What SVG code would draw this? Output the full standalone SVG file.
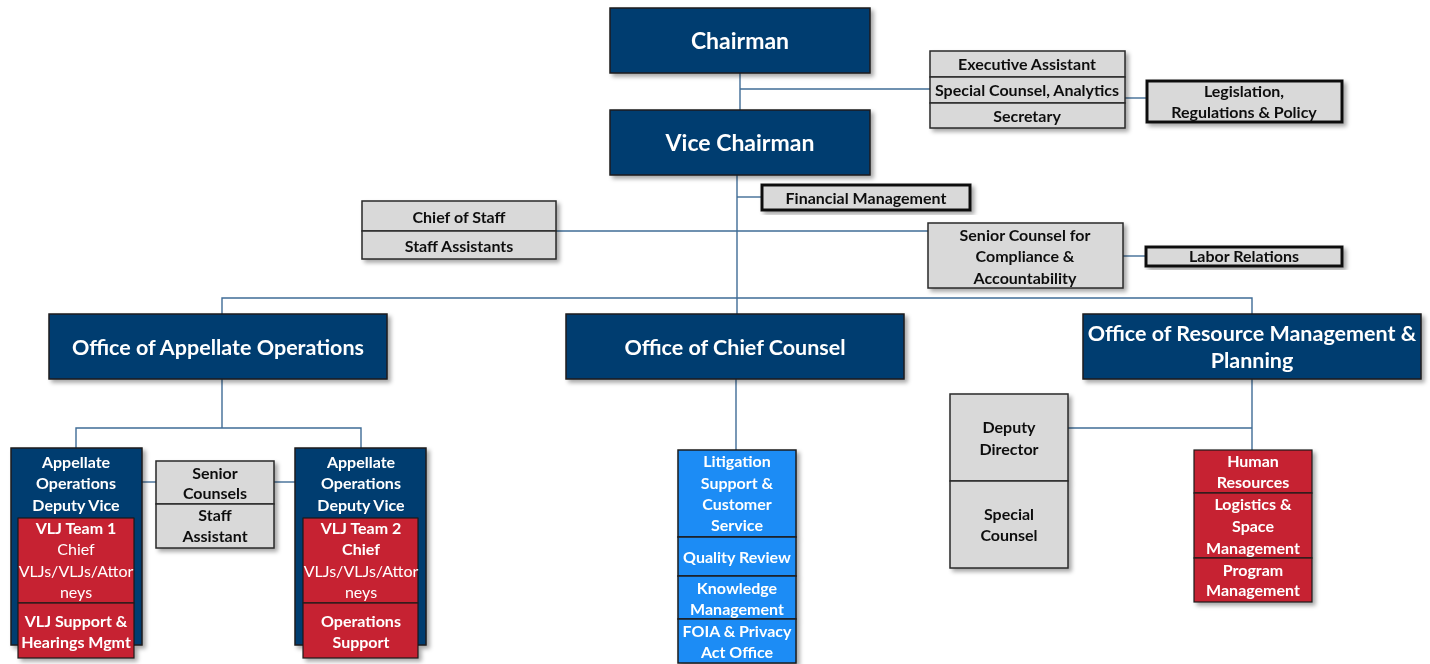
<svg xmlns="http://www.w3.org/2000/svg" width="1430" height="664" viewBox="0 0 1430 664">
  <defs>
    <filter id="sh" x="-10%" y="-10%" width="130%" height="130%">
      <feDropShadow dx="3" dy="3" stdDeviation="2" flood-color="#000" flood-opacity="0.35"/>
    </filter>
    <style>
      text { font-family: Lato, "Liberation Sans", sans-serif; font-weight: bold; text-anchor: middle; }
      .navy { fill: #023d6f; stroke: #1c1c1c; stroke-width: 1.5; }
      .gray { fill: #d9d9d9; stroke: #2a2a2a; stroke-width: 1.5; }
      .grayk { fill: #d9d9d9; stroke: #111; stroke-width: 3; }
      .red { fill: #c62432; stroke: #1c1c1c; stroke-width: 1.2; }
      .blue { fill: #1a8cf5; stroke: #1c1c1c; stroke-width: 1.5; }
      .w { fill: #ffffff; }
      .k { fill: #111111; }
      .big { font-size: 23px; }
      .mid { font-size: 21.5px; }
      .sm { font-size: 16px; }
      .reg { font-weight: normal; }
      .conn line, .conn polyline { stroke: #3f6c96; stroke-width: 1.4; fill: none; }
    </style>
  </defs>
  <rect width="1430" height="664" fill="#ffffff"/>

  <!-- connectors -->
  <g class="conn">
    <line x1="740" y1="73" x2="740" y2="110"/>
    <line x1="740" y1="89" x2="930" y2="89"/>
    <line x1="1125" y1="98" x2="1147" y2="98"/>
    <line x1="737" y1="175" x2="737" y2="314"/>
    <line x1="737" y1="197" x2="762" y2="197"/>
    <line x1="556" y1="231" x2="928" y2="231"/>
    <line x1="1123" y1="256" x2="1146" y2="256"/>
    <polyline points="222,314 222,298 1252,298 1252,314"/>
    <line x1="222" y1="379" x2="222" y2="428"/>
    <polyline points="76,448 76,428 361,428 361,448"/>
    <line x1="142" y1="482" x2="156" y2="482"/>
    <line x1="274" y1="482" x2="295" y2="482"/>
    <line x1="736" y1="379" x2="736" y2="450"/>
    <line x1="1252" y1="379" x2="1252" y2="450"/>
    <line x1="1068" y1="428" x2="1252" y2="428"/>
  </g>

  <g id="chairman" filter="url(#sh)">
    <rect class="navy" x="610" y="8" width="260" height="65"/>
    <text class="w big" x="740" y="49">Chairman</text>
  </g>

  <g id="vice-chairman" filter="url(#sh)">
    <rect class="navy" x="610" y="110" width="260" height="65"/>
    <text class="w big" x="740" y="151">Vice Chairman</text>
  </g>

  <g id="exec-staff" filter="url(#sh)">
    <rect class="gray" x="930" y="51" width="195" height="26"/>
    <rect class="gray" x="930" y="77" width="195" height="26"/>
    <rect class="gray" x="930" y="103" width="195" height="25"/>
    <text class="k sm" x="1027" y="70">Executive Assistant</text>
    <text class="k sm" x="1027" y="96">Special Counsel, Analytics</text>
    <text class="k sm" x="1027" y="122">Secretary</text>
  </g>

  <g id="legislation" filter="url(#sh)">
    <rect class="grayk" x="1147" y="81" width="195" height="41"/>
    <text class="k sm" x="1244" y="97">Legislation,</text>
    <text class="k sm" x="1244" y="118">Regulations &amp; Policy</text>
  </g>

  <g id="financial" filter="url(#sh)">
    <rect class="grayk" x="762" y="185" width="208" height="25"/>
    <text class="k sm" x="866" y="204">Financial Management</text>
  </g>

  <g id="chief-of-staff" filter="url(#sh)">
    <rect class="gray" x="362" y="201" width="194" height="30"/>
    <rect class="gray" x="362" y="231" width="194" height="28"/>
    <text class="k sm" x="459" y="223">Chief of Staff</text>
    <text class="k sm" x="459" y="252">Staff Assistants</text>
  </g>

  <g id="senior-counsel" filter="url(#sh)">
    <rect class="gray" x="928" y="223" width="195" height="65"/>
    <text class="k sm" x="1025" y="241">Senior Counsel for</text>
    <text class="k sm" x="1025" y="262">Compliance &amp;</text>
    <text class="k sm" x="1025" y="284">Accountability</text>
  </g>

  <g id="labor-relations" filter="url(#sh)">
    <rect class="grayk" x="1146" y="247" width="196" height="19"/>
    <text class="k sm" x="1244" y="262">Labor Relations</text>
  </g>

  <g id="appellate-ops" filter="url(#sh)">
    <rect class="navy" x="49" y="314" width="338" height="65"/>
    <text class="w mid" x="218" y="355">Office of Appellate Operations</text>
  </g>

  <g id="chief-counsel" filter="url(#sh)">
    <rect class="navy" x="566" y="314" width="338" height="65"/>
    <text class="w mid" x="735" y="355">Office of Chief Counsel</text>
  </g>

  <g id="resource-mgmt" filter="url(#sh)">
    <rect class="navy" x="1083" y="314" width="338" height="65"/>
    <text class="w mid" x="1252" y="341">Office of Resource Management &amp;</text>
    <text class="w mid" x="1252" y="368">Planning</text>
  </g>

  <g id="deputy-vice-1" filter="url(#sh)">
    <rect class="navy" x="11" y="448" width="131" height="197"/>
    <text class="w sm" x="76" y="468">Appellate</text>
    <text class="w sm" x="76" y="489">Operations</text>
    <text class="w sm" x="76" y="511">Deputy Vice</text>
    <rect class="red" x="18" y="518" width="116" height="85"/>
    <text class="w sm" x="76" y="534">VLJ Team 1</text>
    <text class="w sm reg" x="76" y="555">Chief</text>
    <text class="w sm reg" x="76" y="577">VLJs/VLJs/Attor</text>
    <text class="w sm reg" x="76" y="598">neys</text>
    <rect class="red" x="18" y="603" width="116" height="55"/>
    <text class="w sm" x="76" y="627">VLJ Support &amp;</text>
    <text class="w sm" x="76" y="648">Hearings Mgmt</text>
  </g>

  <g id="senior-counsels" filter="url(#sh)">
    <rect class="gray" x="156" y="461" width="118" height="43"/>
    <rect class="gray" x="156" y="504" width="118" height="44"/>
    <text class="k sm" x="215" y="479">Senior</text>
    <text class="k sm" x="215" y="499">Counsels</text>
    <text class="k sm" x="215" y="521">Staff</text>
    <text class="k sm" x="215" y="542">Assistant</text>
  </g>

  <g id="deputy-vice-2" filter="url(#sh)">
    <rect class="navy" x="295" y="448" width="131" height="197"/>
    <text class="w sm" x="361" y="468">Appellate</text>
    <text class="w sm" x="361" y="489">Operations</text>
    <text class="w sm" x="361" y="511">Deputy Vice</text>
    <rect class="red" x="303" y="518" width="115" height="85"/>
    <text class="w sm" x="361" y="534">VLJ Team 2</text>
    <text class="w sm" x="361" y="555">Chief</text>
    <text class="w sm reg" x="361" y="577">VLJs/VLJs/Attor</text>
    <text class="w sm reg" x="361" y="598">neys</text>
    <rect class="red" x="303" y="603" width="115" height="55"/>
    <text class="w sm" x="361" y="627">Operations</text>
    <text class="w sm" x="361" y="648">Support</text>
  </g>

  <g id="counsel-units" filter="url(#sh)">
    <rect class="blue" x="678" y="450" width="118" height="87"/>
    <rect class="blue" x="678" y="537" width="118" height="39"/>
    <rect class="blue" x="678" y="576" width="118" height="43"/>
    <rect class="blue" x="678" y="619" width="118" height="44"/>
    <text class="w sm" x="737" y="467">Litigation</text>
    <text class="w sm" x="737" y="489">Support &amp;</text>
    <text class="w sm" x="737" y="510">Customer</text>
    <text class="w sm" x="737" y="531">Service</text>
    <text class="w sm" x="737" y="563">Quality Review</text>
    <text class="w sm" x="737" y="594">Knowledge</text>
    <text class="w sm" x="737" y="615">Management</text>
    <text class="w sm" x="737" y="637">FOIA &amp; Privacy</text>
    <text class="w sm" x="737" y="658">Act Office</text>
  </g>

  <g id="deputy-director" filter="url(#sh)">
    <rect class="gray" x="950" y="394" width="118" height="87"/>
    <rect class="gray" x="950" y="481" width="118" height="87"/>
    <text class="k sm" x="1009" y="433">Deputy</text>
    <text class="k sm" x="1009" y="455">Director</text>
    <text class="k sm" x="1009" y="520">Special</text>
    <text class="k sm" x="1009" y="541">Counsel</text>
  </g>

  <g id="resource-units" filter="url(#sh)">
    <rect class="red" x="1194" y="450" width="118" height="43"/>
    <rect class="red" x="1194" y="493" width="118" height="65"/>
    <rect class="red" x="1194" y="558" width="118" height="44"/>
    <text class="w sm" x="1253" y="467">Human</text>
    <text class="w sm" x="1253" y="488">Resources</text>
    <text class="w sm" x="1253" y="510">Logistics &amp;</text>
    <text class="w sm" x="1253" y="532">Space</text>
    <text class="w sm" x="1253" y="554">Management</text>
    <text class="w sm" x="1253" y="576">Program</text>
    <text class="w sm" x="1253" y="596">Management</text>
  </g>
</svg>
